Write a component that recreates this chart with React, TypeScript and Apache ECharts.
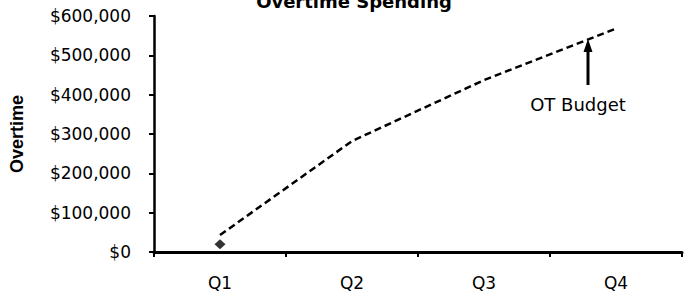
import React, { useEffect, useRef } from "react";
import * as echarts from "echarts";

const categories = ["Q1", "Q2", "Q3", "Q4"];
const otBudget = [43000, 282000, 437000, 568000];
const actualSpending = [20000];
const yTicks = { min: 0, max: 600000, interval: 100000 };
const titleText = "Overtime Spending";
const yAxisName = "Overtime";
const annotationText = "OT Budget";

const fmt = (v: number) => "$" + v.toLocaleString("en-US");

export default function App() {
  const ref = useRef<HTMLDivElement>(null);
  useEffect(() => {
    if (!ref.current) return;
    const chart = echarts.init(ref.current, undefined, { renderer: "svg" });
    chart.setOption({
      animation: false,
      backgroundColor: "#ffffff",
      grid: { left: 153, right: 4, top: 16, bottom: 43 },
      xAxis: {
        type: "category",
        data: categories,
        boundaryGap: true,
        axisLine: { show: true, lineStyle: { color: "#000", width: 3 } },
        axisTick: { show: true, length: 5, lineStyle: { color: "#000", width: 2 }, alignWithLabel: false },
        axisLabel: { color: "#000", fontFamily: "DejaVu Sans", fontSize: 17, margin: 22 },
        splitLine: { show: false },
      },
      yAxis: {
        type: "value",
        min: yTicks.min,
        max: yTicks.max,
        interval: yTicks.interval,
        name: yAxisName,
        nameLocation: "middle",
        nameRotate: 90,
        nameGap: 128,
        nameTextStyle: { color: "#000", fontFamily: "Liberation Sans", fontWeight: "bold", fontSize: 18 },
        axisLine: { show: true, lineStyle: { color: "#000", width: 2.5 } },
        axisTick: { show: true, length: 5, lineStyle: { color: "#000", width: 2 } },
        axisLabel: { color: "#000", fontFamily: "DejaVu Sans", fontSize: 17, margin: 23, formatter: fmt },
        splitLine: { show: false },
      },
      series: [
        {
          name: "OT Budget",
          type: "line",
          data: otBudget,
          symbol: "none",
          lineStyle: { color: "#000", width: 2.5, type: [7, 4] },
        },
        {
          name: "Actual",
          type: "scatter",
          data: actualSpending.map((v, i) => [i, v]),
          symbol: "diamond",
          symbolSize: [11, 10],
          itemStyle: { color: "#000" },
        },
      ],
      graphic: [
        {
          type: "text",
          x: 354,
          y: 1,
          style: {
            text: titleText,
            fontFamily: "DejaVu Sans",
            fontWeight: "bold",
            fontSize: 18,
            fill: "#000",
            textAlign: "center",
            textVerticalAlign: "middle",
          },
        },
        {
          type: "line",
          shape: { x1: 588, y1: 85, x2: 588, y2: 50 },
          style: { stroke: "#000", lineWidth: 3 },
        },
        {
          type: "polygon",
          shape: { points: [[583.5, 52], [592.5, 52], [588, 39]] },
          style: { fill: "#000" },
        },
        {
          type: "text",
          x: 578,
          y: 104,
          style: {
            text: annotationText,
            fontFamily: "DejaVu Sans",
            fontSize: 18,
            fill: "#000",
            textAlign: "center",
            textVerticalAlign: "middle",
          },
        },
      ],
    });
    return () => chart.dispose();
  }, []);
  return (
    <div
      ref={ref}
      style={{ position: "fixed", left: 0, top: 0, width: 686, height: 295, background: "#fff" }}
    />
  );
}
